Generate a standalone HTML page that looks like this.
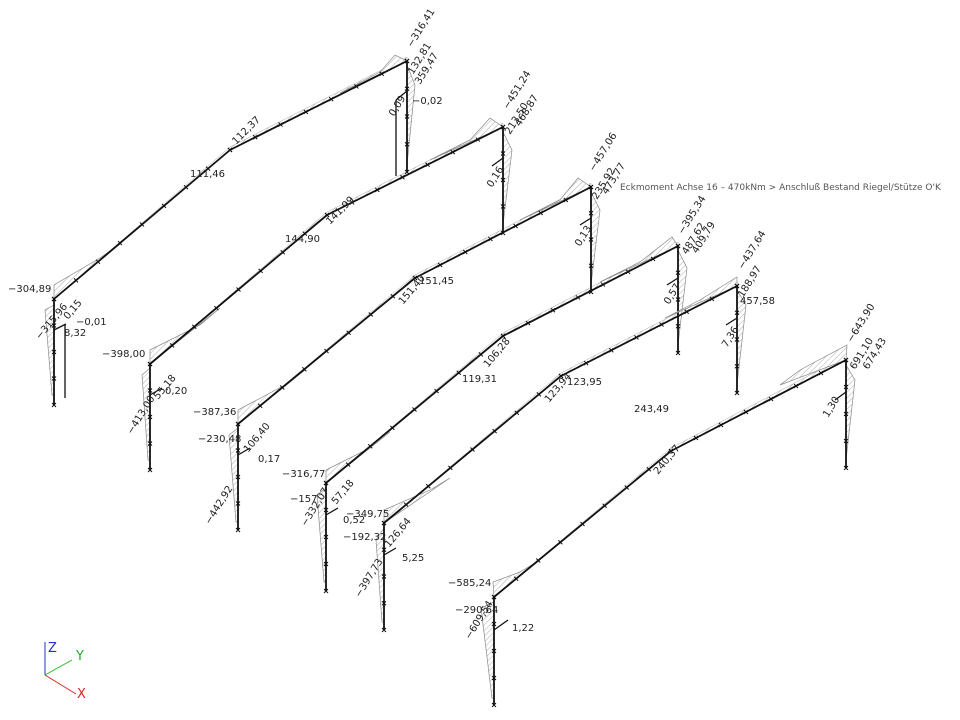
<!DOCTYPE html>
<html><head><meta charset="utf-8"><style>
html,body{margin:0;padding:0;background:#fff;width:960px;height:720px;overflow:hidden}
svg{display:block}
text{font-family:"DejaVu Sans","Liberation Sans",sans-serif;font-size:10px;fill:#222}
.h{fill:url(#hat);stroke:#888;stroke-width:0.7}
.m{stroke:#111;stroke-width:1.8;fill:none;stroke-linejoin:round}
.s{stroke:#111;stroke-width:1.3;fill:none}
</style></head><body>
<svg id="sv" width="960" height="720" viewBox="0 0 960 720">
<defs>
<pattern id="hat" width="4" height="4" patternUnits="userSpaceOnUse" patternTransform="rotate(45)">
<rect width="4" height="4" fill="#fff"/><line x1="0" y1="0" x2="0" y2="4" stroke="#999" stroke-width="0.8"/>
</pattern>
</defs>
<g id="strips"></g>

<!-- Frame 1 -->
<polygon class="h" points="54,299 54,285 100,258 120,244 54,299"/>
<polygon class="h" points="407,61 395,55 380,72 340,93 407,61"/>
<polygon class="h" points="54,305 45,310 52,395 54,395"/>
<polygon class="h" points="407,65 415,85 407,165"/>
<polyline class="m" points="54,405 54,299 230,150 407,61 407,172"/>
<line class="s" x1="65" y1="325" x2="65" y2="398"/>
<line class="s" x1="54" y1="330" x2="66" y2="324"/>
<line class="s" x1="396" y1="100" x2="396" y2="176"/>
<line class="s" x1="396" y1="100" x2="407" y2="91"/>

<!-- Frame 2 -->
<polygon class="h" points="150,364 150,350 200,325 220,308 150,364"/>
<polygon class="h" points="503,127 490,118 470,140 430,160 503,127"/>
<polygon class="h" points="150,368 142,375 148,460 150,460"/>
<polygon class="h" points="503,132 512,150 503,225"/>
<polyline class="m" points="150,470 150,364 327,215 503,127 503,233"/>
<line class="s" x1="150" y1="395" x2="162" y2="388"/>
<line class="s" x1="492" y1="166" x2="503" y2="158"/>

<!-- Frame 3 -->
<polygon class="h" points="238,424 238,410 285,385 305,370 238,424"/>
<polygon class="h" points="591,187 578,178 560,200 520,220 591,187"/>
<polygon class="h" points="238,428 229,435 236,522 238,522"/>
<polygon class="h" points="591,192 600,210 591,285"/>
<polyline class="m" points="238,530 238,424 415,278 591,187 591,292"/>
<line class="s" x1="238" y1="455" x2="250" y2="448"/>
<line class="s" x1="580" y1="225" x2="591" y2="218"/>

<!-- Frame 4 -->
<polygon class="h" points="326,483 326,470 370,448 390,432 326,483"/>
<polygon class="h" points="678,246 672,237 640,262 600,282 678,246"/>
<polygon class="h" points="326,488 317,495 324,582 326,582"/>
<polygon class="h" points="678,250 687,268 678,345"/>
<polyline class="m" points="326,591 326,483 503,336 678,246 678,353"/>
<line class="s" x1="326" y1="515" x2="338" y2="508"/>
<line class="s" x1="667" y1="285" x2="678" y2="278"/>

<!-- Frame 5 -->
<polygon class="h" points="384,523 384,510 430,490 450,478 384,523"/>
<polygon class="h" points="737,286 737,277 700,300 665,318 737,286"/>
<polygon class="h" points="384,528 376,540 382,622 384,622"/>
<polygon class="h" points="737,290 746,305 737,385"/>
<polyline class="m" points="384,630 384,523 561,376 737,286 737,393"/>
<line class="s" x1="384" y1="555" x2="396" y2="548"/>
<line class="s" x1="726" y1="325" x2="737" y2="318"/>

<!-- Frame 6 -->
<polygon class="h" points="494,597 493,582 520,572 540,560 494,597"/>
<polygon class="h" points="846,360 847,345 800,370 780,385 846,360"/>
<polygon class="h" points="494,602 481,608 492,698 494,698"/>
<polygon class="h" points="846,365 855,380 846,460"/>
<polyline class="m" points="494,705 494,597 671,451 846,360 846,468"/>
<line class="s" x1="494" y1="630" x2="508" y2="620"/>
<line class="s" x1="835" y1="400" x2="846" y2="392"/>
<g id="marks" stroke="#111" stroke-width="1"></g>

<!-- labels -->
<g>
<text x="8" y="292">−304,89</text>
<text x="190" y="177">111,46</text>
<text x="102" y="357">−398,00</text>
<text x="193" y="415">−387,36</text>
<text x="165" y="394">0,20</text>
<text x="258" y="462">0,17</text>
<text x="282" y="477">−316,77</text>
<text x="285" y="242">144,90</text>
<text x="419" y="284">151,45</text>
<text x="462" y="382">119,31</text>
<text x="567" y="385">123,95</text>
<text x="346" y="517">−349,75</text>
<text x="343" y="523">0,52</text>
<text x="343" y="540">−192,32</text>
<text x="402" y="561">5,25</text>
<text x="448" y="586">−585,24</text>
<text x="455" y="613">−290,64</text>
<text x="512" y="631">1,22</text>
<text x="634" y="412">243,49</text>
<text x="740" y="304">457,58</text>
<text x="620" y="190" style="font-size:9px;fill:#555">Eckmoment Achse 16 – 470kNm &gt; Anschluß Bestand Riegel/Stütze O'K</text>
</g>
<g>
<text transform="translate(412,48) rotate(-58)">−316,41</text>
<text transform="translate(413,75) rotate(-58)">132,81</text>
<text transform="translate(420,85) rotate(-58)">359,47</text>
<text x="412" y="104">−0,02</text>
<text transform="translate(394,117) rotate(-58)">0,09</text>
<text transform="translate(508,110) rotate(-58)">−451,24</text>
<text transform="translate(510,135) rotate(-58)">213,50</text>
<text transform="translate(520,127) rotate(-58)">468,87</text>
<text transform="translate(492,188) rotate(-58)">0,16</text>
<text transform="translate(594,172) rotate(-58)">−457,06</text>
<text transform="translate(597,200) rotate(-58)">235,92</text>
<text transform="translate(607,195) rotate(-58)">473,77</text>
<text transform="translate(580,247) rotate(-58)">0,13</text>
<text transform="translate(683,235) rotate(-58)">−395,34</text>
<text transform="translate(687,255) rotate(-58)">487,62</text>
<text transform="translate(697,254) rotate(-58)">409,79</text>
<text transform="translate(669,305) rotate(-58)">0,57</text>
<text transform="translate(743,270) rotate(-58)">−437,64</text>
<text transform="translate(743,298) rotate(-58)">188,97</text>
<text transform="translate(727,348) rotate(-58)">7,36</text>
<text transform="translate(852,343) rotate(-58)">−643,90</text>
<text transform="translate(855,370) rotate(-58)">691,10</text>
<text transform="translate(868,370) rotate(-58)">674,43</text>
<text transform="translate(828,418) rotate(-58)">1,30</text>
<text transform="translate(236,145) rotate(-45)">112,37</text>
<text transform="translate(330,225) rotate(-45)">141,99</text>
<text transform="translate(403,305) rotate(-50)">151,40</text>
<text transform="translate(488,368) rotate(-50)">106,28</text>
<text transform="translate(549,403) rotate(-50)">123,94</text>
<text transform="translate(658,475) rotate(-50)">240,37</text>
<text transform="translate(40,340) rotate(-50)">−315,96</text>
<text transform="translate(68,320) rotate(-50)">0,15</text>
<text x="76" y="325">−0,01</text>
<text x="64" y="336">8,32</text>
<text transform="translate(132,435) rotate(-58)">−413,00</text>
<text transform="translate(158,400) rotate(-50)">55,18</text>
<text transform="translate(210,525) rotate(-58)">−442,92</text>
<text x="198" y="442">−230,48</text>
<text transform="translate(248,453) rotate(-50)">106,40</text>
<text transform="translate(306,527) rotate(-58)">−332,07</text>
<text transform="translate(336,505) rotate(-50)">57,18</text>
<text x="290" y="502">−157</text>
<text transform="translate(360,598) rotate(-58)">−397,73</text>
<text transform="translate(389,548) rotate(-50)">126,64</text>
<text transform="translate(470,640) rotate(-58)">−609,54</text>
</g>

<!-- axes -->
<line x1="45" y1="675" x2="45" y2="642" stroke="#2233cc" stroke-width="1"/>
<line x1="45" y1="675" x2="72" y2="660" stroke="#22bb22" stroke-width="1"/>
<line x1="45" y1="675" x2="76" y2="694" stroke="#dd2222" stroke-width="1"/>
<text x="48" y="652" style="fill:#2233cc;font-size:13px">Z</text>
<text x="76" y="660" style="fill:#22aa22;font-size:13px">Y</text>
<text x="77" y="698" style="fill:#dd2222;font-size:13px">X</text>
</svg>
<script>
var F=[[54,299,405,230,150,407,61,172],[150,364,470,327,215,503,127,233],[238,424,530,415,278,591,187,292],[326,483,591,503,336,678,246,353],[384,523,630,561,376,737,286,393],[494,597,705,671,451,846,360,468]];
var NS="http://www.w3.org/2000/svg",mk=document.getElementById("marks"),st=document.getElementById("strips");
function x(px,py){var p=document.createElementNS(NS,"path");p.setAttribute("d","M"+(px-2)+","+(py-2)+"l4,4M"+(px+2)+","+(py-2)+"l-4,4");mk.appendChild(p);}
function seg(a,b,c,d,n){for(var i=0;i<=n;i++)x(a+(c-a)*i/n,b+(d-b)*i/n);}
F.forEach(function(f){
 seg(f[0],f[1],f[3],f[4],8);seg(f[3],f[4],f[5],f[6],7);
 seg(f[0],f[1],f[0],f[2],4);seg(f[5],f[6],f[5],f[7],4);
 var p=document.createElementNS(NS,"polygon");
 p.setAttribute("points",f[0]+","+f[1]+" "+f[3]+","+(f[4]-3)+" "+f[5]+","+(f[6]-4)+" "+f[5]+","+f[6]+" "+f[3]+","+f[4]);
 p.setAttribute("fill","url(#hat)");p.setAttribute("stroke","#aaa");p.setAttribute("stroke-width","0.5");st.appendChild(p);
});
</script>
</body></html>
